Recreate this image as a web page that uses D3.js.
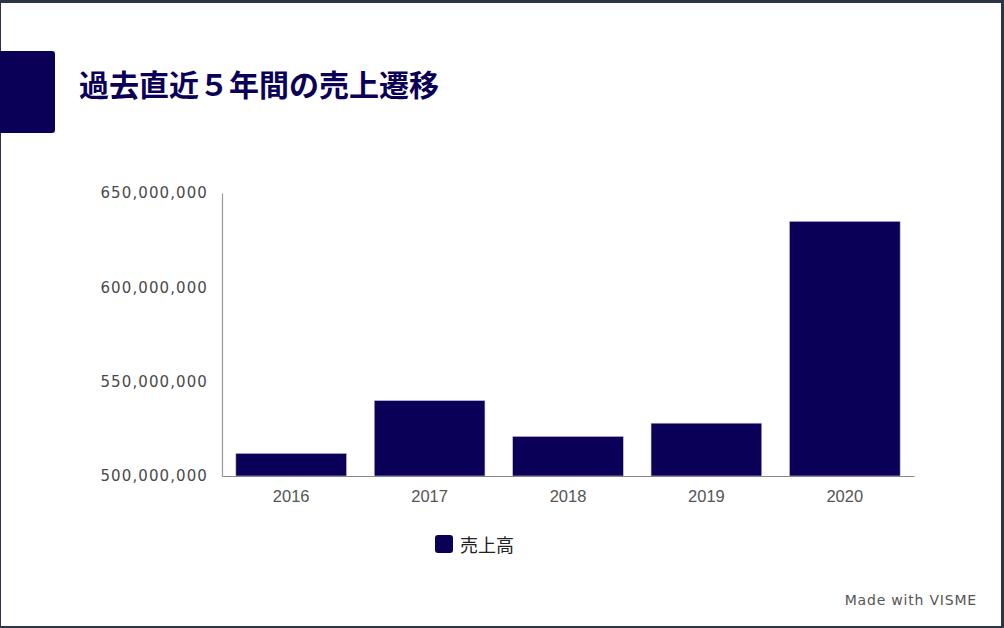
<!DOCTYPE html>
<html><head><meta charset="utf-8">
<script src="https://cdn.jsdelivr.net/npm/d3@7"></script>
<style>
html,body{margin:0;padding:0;background:#fff;}
svg{display:block;}
</style></head>
<body>
<svg id="c" width="1004" height="628"></svg>
<script>
const categories = ["2016","2017","2018","2019","2020"];
const salesValues = [512000000, 540000000, 521000000, 528000000, 635000000];
const yTicks = [500000000, 550000000, 600000000, 650000000];
const titleText = "過去直近５年間の売上遷移";
const legendLabel = "売上高";
const creditText = "Made with VISME";

const svg = d3.select("#c");
const W = 1004, H = 628;
const navy = "#0a0058";

// frame
svg.append("rect").attr("x",0).attr("y",0).attr("width",W).attr("height",H).attr("fill","#2c3646");
svg.append("rect").attr("x",1).attr("y",3).attr("width",W-4).attr("height",H-5).attr("fill","#fff");

// title block
svg.append("path").attr("d","M0,51 H52 Q55,51 55,54 V130 Q55,133 52,133 H0 Z").attr("fill",navy);
svg.append("text").attr("x",79).attr("y",96).text(titleText)
  .attr("font-family","'Noto Sans CJK JP'").attr("font-weight","bold").attr("font-size",30).attr("fill",navy);

const x = d3.scaleBand().domain(categories).range([222,914]).paddingInner(0.2).paddingOuter(0.1);
const y = d3.scaleLinear().domain([500000000,650000000]).range([476,193]);

const fmt = d3.format(",");
// y axis
const ya = svg.append("g").attr("transform","translate(222,0)")
  .call(d3.axisLeft(y).tickValues(yTicks).tickFormat(fmt).tickSize(0).tickPadding(14));
ya.select(".domain").attr("stroke","#999").attr("stroke-width",1.2);
ya.selectAll("text").attr("font-family","'DejaVu Sans'").attr("font-size",15).attr("letter-spacing",1.1)
  .attr("fill","#4a4a4a").attr("dy","0.32em");

// bars
svg.append("g").selectAll("rect").data(categories).join("rect")
  .attr("x",d=>x(d)).attr("width",x.bandwidth())
  .attr("y",(d,i)=>y(salesValues[i])).attr("height",(d,i)=>y(500000000)-y(salesValues[i]))
  .attr("fill",navy).attr("stroke","#c8c6e0").attr("stroke-width",0.6);

// x axis
const xa = svg.append("g").attr("transform","translate(0,476)")
  .call(d3.axisBottom(x).tickSize(0).tickPadding(14).tickSizeOuter(0));
xa.select(".domain").attr("stroke","#888").attr("stroke-width",1.2);
xa.selectAll("text").attr("font-family","'Liberation Sans'").attr("font-size",16.5).attr("fill","#555");

// legend
svg.append("rect").attr("x",435).attr("y",535).attr("width",18).attr("height",18).attr("rx",3).attr("fill",navy);
svg.append("text").attr("x",460).attr("y",552).text(legendLabel)
  .attr("font-family","'Noto Sans CJK JP'").attr("font-size",18).attr("fill","#222");

// credit
svg.append("text").attr("x",977).attr("y",605).attr("text-anchor","end").text(creditText)
  .attr("font-family","'DejaVu Sans'").attr("font-size",14).attr("letter-spacing",0.8).attr("fill","#555");
</script>
</body></html>
